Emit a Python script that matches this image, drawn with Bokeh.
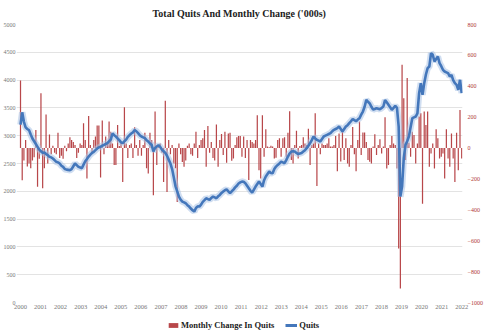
from bokeh.plotting import figure
from bokeh.models import Range1d, LinearAxis, FixedTicker, Legend, LegendItem, ColumnDataSource
from bokeh.layouts import column
from bokeh.embed import file_html
from bokeh.resources import INLINE

# ---- data ----
year_labels = [str(y) for y in range(2000, 2023)]

monthly_change = [
    437, -208, -80, 52, -120, -100, -130, -80, -60, 117,
    -250, -70, 355, -260, -130, 218, -100, 88, -40, 15,
    -30, -40, 99, -65, -50, -70, 15, -20, 30, 70,
    52, 40, 20, -65, -30, 30, 20, 160, 52, -197,
    208, 20, -40, 52, 75, 146, 146, -190, 178, -40,
    75, 30, 172, 106, 30, -110, -110, 150, 13, 40,
    -219, 264, 30, -65, 20, 30, -65, 134, 20, -50,
    52, -50, 20, 99, -130, -165, 99, 52, -306, 237,
    -110, 20, 30, -30, -219, 306, -284, 52, -40, 20,
    -100, -130, -349, 30, -40, -90, -121, -80, 15, 30,
    -40, -50, 30, 106, -65, 20, 52, 63, 117, -121,
    143, -30, 40, -65, -80, 153, -121, 52, 91, -45,
    106, -95, 95, 99, -82, -67, 20, 70, 78, 78,
    -57, 75, -65, 52, -207, 52, 40, 30, 52, 212,
    -143, -197, 212, -57, 121, 10, 5, 15, 10, -67,
    -63, 52, 63, -57, 63, 70, -57, 99, 239, -78,
    -100, 20, 112, -67, 13, 20, 70, 30, 20, 125,
    -110, 20, 30, 225, -245, 30, -40, 30, 20, 20,
    30, 63, 10, 10, 20, 78, -150, 95, -87, 117,
    -78, 63, -100, -121, 20, 137, -40, -150, 52, 172,
    -45, 100, 100, 40, -78, -89, -100, 10, 90, -45,
    20, 57, -35, 10, 199, -132, -110, 20, 78, 30,
    20, -132, -650, -910, 540, 323, -78, 453, 35, -57,
    106, 85, -100, 30, 204, 225, -360, 236, 150, 236,
    -121, -35, 30, -132, 121, 63, -67, -57, -35, -197,
    121, -67, -121, 95, -67, -219, 99, -143, 247, -67,
]

quits = [
    3200, 3420, 3250, 3150, 3120, 3100, 3020, 2950, 2900, 2850,
    2800, 2750, 2720, 2690, 2700, 2670, 2650, 2620, 2610, 2590,
    2560, 2530, 2520, 2500, 2460, 2440, 2400, 2390, 2385, 2380,
    2400, 2450, 2500, 2470, 2440, 2430, 2415, 2480, 2540, 2580,
    2625, 2660, 2690, 2710, 2740, 2770, 2790, 2800, 2820, 2835,
    2850, 2865, 2900, 2930, 3040, 3010, 2985, 2950, 2920, 2880,
    2865, 2900, 2930, 2980, 3010, 3040, 3060, 3100, 3080, 3045,
    3010, 2985, 2970, 2955, 2920, 2895, 2860, 2835, 2715, 2780,
    2805, 2830, 2800, 2750, 2720, 2690, 2640, 2570, 2500, 2400,
    2250, 2090, 2000, 1905, 1850, 1815, 1800, 1785, 1750, 1725,
    1690, 1660, 1635, 1700, 1730, 1725, 1760, 1810, 1840, 1875,
    1860, 1845, 1880, 1905, 1890, 1875, 1910, 1935, 1970, 1995,
    2020, 2035, 2000, 1965, 2000, 2030, 2070, 2100, 2140, 2160,
    2175, 2170, 2145, 2100, 2055, 2010, 1975, 2030, 2085, 2130,
    2175, 2130, 2085, 2200, 2265, 2310, 2355, 2330, 2325, 2400,
    2445, 2475, 2500, 2535, 2520, 2505, 2560, 2625, 2680, 2715,
    2720, 2715, 2690, 2670, 2680, 2690, 2715, 2740, 2775, 2820,
    2865, 2920, 2985, 2950, 2925, 2910, 2895, 2940, 2985, 3000,
    3015, 3030, 3045, 3080, 3105, 3120, 3135, 3165, 3120, 3075,
    3120, 3165, 3190, 3225, 3260, 3300, 3280, 3260, 3290, 3315,
    3380, 3435, 3520, 3645, 3610, 3580, 3520, 3470, 3480, 3495,
    3485, 3475, 3500, 3525, 3640, 3600, 3555, 3510, 3465, 3500,
    3535, 3500, 3165, 1905, 2085, 2600, 2835, 2900, 2985, 3150,
    3315, 3330, 3345, 3400, 3765, 3945, 3735, 3945, 4100, 4215,
    4245, 4485, 4455, 4335, 4380, 4425, 4305, 4250, 4185, 4155,
    4140, 4125, 4065, 4095, 4000, 3945, 3915, 3825, 4005, 3765,
]

left_ticks = list(range(0, 5001, 500))
right_ticks = list(range(-1000, 801, 200))

# ---- build ----
n = min(len(quits), len(monthly_change))
first_year = int(year_labels[0])
span = len(year_labels) - 1
step = span / (n - 1)
xs = [first_year + i * step for i in range(n)]

src = ColumnDataSource(dict(x=xs, chg=monthly_change[:n], q=quits[:n]))

SERIF = "Liberation Serif"
RED = "#b8474a"
BLUE = "#4477bb"
GLOW = "#a9c3e6"

p = figure(width=485, height=318, output_backend="svg", toolbar_location=None,
           x_range=Range1d(first_year - 0.2, first_year + span + 0.04),
           y_range=Range1d(left_ticks[0], left_ticks[-1]),
           min_border_left=0, min_border_right=0, min_border_top=0, min_border_bottom=16)
p.extra_y_ranges = {"chg": Range1d(right_ticks[0], right_ticks[-1])}
p.outline_line_color = None
p.background_fill_color = "white"

p.title.text = "Total Quits And Monthly Change ('000s)"
p.title.align = "center"
p.title.text_font = SERIF
p.title.text_font_style = "bold"
p.title.text_font_size = "10px"
p.title.text_color = "#222222"
p.title.offset = 0
p.title.standoff = 11

p.vbar(x="x", top="chg", bottom=0, width=step * 0.72, source=src,
       y_range_name="chg", fill_color=RED, line_color=None)
p.line("x", "q", source=src, line_width=6.5, color=GLOW, alpha=0.55)
p.line("x", "q", source=src, line_width=2.6, color=BLUE)


def style_axis(ax, size, color, standoff):
    ax.axis_line_color = None
    ax.major_tick_line_color = None
    ax.minor_tick_line_color = None
    ax.major_tick_out = 0
    ax.major_tick_in = 0
    ax.minor_tick_out = 0
    ax.minor_tick_in = 0
    ax.major_label_text_font = SERIF
    ax.major_label_text_font_size = size
    ax.major_label_text_color = color
    ax.major_label_standoff = standoff


# x axis
xa = p.xaxis[0]
xa.ticker = FixedTicker(ticks=[first_year + k for k in range(len(year_labels))])
xa.major_label_overrides = {first_year + k: lab for k, lab in enumerate(year_labels)}
style_axis(xa, "6.5px", "#777777", 2)

# left axis
ya = p.yaxis[0]
ya.ticker = FixedTicker(ticks=left_ticks)
style_axis(ya, "6px", "#777777", 1)

# right axis
ra = LinearAxis(y_range_name="chg", ticker=FixedTicker(ticks=right_ticks))
style_axis(ra, "6px", "#b03a36", 5)
p.add_layout(ra, "right")

p.xgrid.grid_line_color = None
p.ygrid.grid_line_color = "#e3e3e3"
p.ygrid.grid_line_width = 1

# legend strip under the chart (proxy renderers of zero size carry the styles)
lg = figure(width=485, height=18, output_backend="svg", toolbar_location=None,
            x_range=Range1d(0, 1), y_range=Range1d(0, 1),
            min_border=0, outline_line_color=None)
lg.axis.visible = False
lg.grid.visible = False
r_bar = lg.vbar(x=[0], top=[0], bottom=[0], width=0, fill_color=RED, line_color=None)
r_line = lg.line(x=[0], y=[0], line_width=3, color=BLUE)
legend = Legend(items=[LegendItem(label="Monthly Change In Quits", renderers=[r_bar]),
                       LegendItem(label="Quits", renderers=[r_line])],
                orientation="horizontal", location=(151, 6),
                border_line_color=None, background_fill_alpha=0,
                label_text_font=SERIF, label_text_font_style="bold",
                label_text_font_size="8.5px", label_text_color="#222222",
                glyph_width=12, glyph_height=6, label_standoff=2,
                spacing=11, padding=2, margin=0)
lg.add_layout(legend)

open("out.html", "w").write(file_html(column(p, lg, spacing=0), INLINE))
